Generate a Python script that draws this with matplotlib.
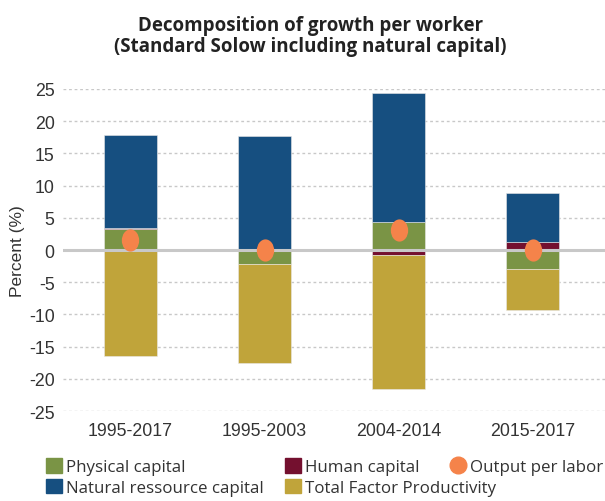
import numpy as np
import matplotlib
matplotlib.use("Agg")
import matplotlib.pyplot as plt
from matplotlib.path import Path
from matplotlib.transforms import Affine2D
from matplotlib.patches import Patch
from matplotlib.lines import Line2D

periods = ["1995-2017", "1995-2003", "2004-2014", "2015-2017"]
physical = [3.3, -2.2, 4.4, -2.9]
human = [0.1, 0.2, -0.7, 1.2]
natural = [14.4, 17.5, 19.9, 7.6]
tfp = [-16.4, -15.3, -20.9, -6.4]
output = [1.5, 0.0, 3.1, 0.0]

c_phys = "#7a9445"
c_hum = "#74102f"
c_nat = "#164f80"
c_tfp = "#c0a43a"
c_out = "#f5834a"

plt.rcParams['font.family'] = ['Open Sans', 'DejaVu Sans']

W, H = 605, 502
fig = plt.figure(figsize=(W / 100, H / 100), dpi=100)
ax = fig.add_axes([0.104, 0.179, 0.896, 0.642])

x = np.arange(len(periods))
w = 0.40

# positives stack upward, negatives downward
pos = np.zeros(len(x))
neg = np.zeros(len(x))
for vals, col in [(physical, c_phys), (human, c_hum), (natural, c_nat), (tfp, c_tfp)]:
    vals = np.array(vals)
    bottom = np.where(vals >= 0, pos, neg)
    ax.bar(x, vals, w, bottom=bottom, color=col, edgecolor="#e8e8e8", linewidth=0.4, zorder=2)
    pos = pos + np.where(vals >= 0, vals, 0)
    neg = neg + np.where(vals < 0, vals, 0)

ax.axhline(0, color="#c8c8c8", linewidth=2.2, zorder=3)

ell = Path.unit_circle().transformed(Affine2D().scale(0.78, 1.0))
ax.plot(x, output, linestyle="none", marker=ell, markersize=16,
        color=c_out, markeredgewidth=0, zorder=4)

ax.set_ylim(-25, 25)
ax.set_xlim(-0.504, 3.54)
ax.set_yticks(np.arange(-25, 26, 5))
ax.set_xticks(x)
tick_font = ["Liberation Sans"]
ax.set_xticklabels(periods, fontsize=12.8, color="#333333", family=tick_font)
ax.set_yticklabels([str(v) for v in np.arange(-25, 26, 5)], fontsize=12.8,
                   color="#333333", family=tick_font)
ax.tick_params(axis="x", length=0, pad=8)
ax.tick_params(axis="y", length=0, pad=6)
ax.yaxis.grid(True, linestyle=(0, (2, 2)), color="#c8c8c8", linewidth=1, zorder=0)
ax.set_axisbelow(True)
for s in ax.spines.values():
    s.set_visible(False)
ax.set_ylabel("Percent (%)", fontsize=12.5, color="#333333", family=tick_font, labelpad=3)

fig.text(311 / W, 1 - 31 / H, "Decomposition of growth per worker",
         ha="center", va="baseline", fontsize=13.5, fontweight="bold", color="#222222")
fig.text(310 / W, 1 - 52 / H, "(Standard Solow including natural capital)",
         ha="center", va="baseline", fontsize=13.5, fontweight="bold", color="#222222")

# legend: three separate columns, placed like the reference
cols = [
    (46, [Patch(color=c_phys, label="Physical capital"),
          Patch(color=c_nat, label="Natural ressource capital")]),
    (285, [Patch(color=c_hum, label="Human capital"),
           Patch(color=c_tfp, label="Total Factor Productivity")]),
    (450, [Line2D([], [], linestyle="none", marker="o", markersize=12,
                  color=c_out, label="Output per labor")]),
]
for xpx, hs in cols:
    fig.legend(handles=hs, loc="upper left", bbox_to_anchor=(xpx / W, 1 - 459 / H),
               frameon=False, fontsize=12.2, handlelength=0.95, handleheight=0.95,
               handletextpad=0.25, labelspacing=0.2, borderpad=0, borderaxespad=0,
               labelcolor="#333333")

fig.savefig("out.png", dpi=100)
